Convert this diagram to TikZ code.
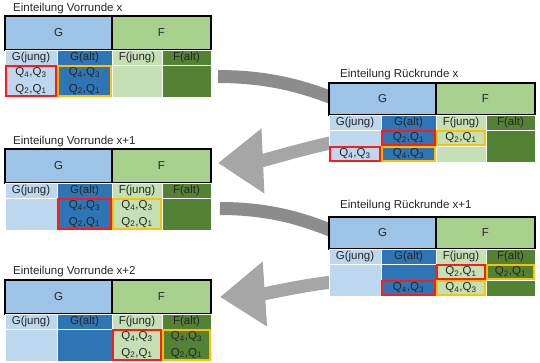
\documentclass[tikz,border=0pt]{standalone}
\usepackage{fontspec}
\setmainfont{Liberation Sans}
\usetikzlibrary{arrows.meta,positioning,backgrounds}
\definecolor{ghead}{HTML}{9DC3E6}
\definecolor{gjung}{HTML}{BDD7EE}
\definecolor{galt}{HTML}{2E75B6}
\definecolor{fhead}{HTML}{A9D18E}
\definecolor{fjung}{HTML}{C5E0B4}
\definecolor{falt}{HTML}{548235}
\definecolor{markred}{HTML}{FF1A1A}
\definecolor{markorange}{HTML}{FFC000}
\definecolor{arrowdark}{HTML}{8C8C8C}
\definecolor{arrowlight}{HTML}{A6A6A6}
\newcommand{\Qs}[2]{Q\textsubscript{#1},Q\textsubscript{#2}}

\begin{document}
\begin{tikzpicture}[x=1pt,y=-1pt]
	\tikzset{cell/.style={rectangle, inner sep=0pt, outer sep=0pt, draw=white, line width=.6pt, align=center, minimum height=15pt, text=black!85, font=\fontsize{11.5}{16.5}\selectfont},
		gh/.style={cell, fill=ghead, draw=black, line width=1.6pt, minimum width=107pt},
		fh/.style={cell, fill=fhead, draw=black, line width=1.6pt, minimum width=99pt},
		gj/.style={cell, fill=gjung, minimum width=52pt},
		ga/.style={cell, fill=galt, minimum width=55pt},
		fj/.style={cell, fill=fjung, minimum width=50pt},
		fa/.style={cell, fill=falt, minimum width=49pt},
		title/.style={anchor=base west, inner sep=0pt, text=black!85, font=\fontsize{11.5}{14}\selectfont},
		redmark/.style={draw=markred, line width=1.5pt},
		orangemark/.style={draw=markorange, line width=1.5pt},
		curvarrow/.style={draw=arrowdark, line width=13pt},
		curvarrowhead/.style={draw=arrowlight, line width=13pt, -{Triangle[length=45pt,width=62pt]}}
	}
	\useasboundingbox (0,0) rectangle (540,363);
	
	% Vorrunde x
	\node [title] (v1t) at (13,11.5) {Einteilung Vorrunde x};
	\node [gh, minimum height=34pt, anchor=north west] (v1G) at (5,16) {G};
	\node [fh, minimum height=34pt, right=0pt of v1G] (v1F) {F};
	\node [gj, anchor=north west] (v1gj) at (v1G.south west) {G(jung)};
	\node [ga, right=0pt of v1gj] (v1ga) {G(alt)};
	\node [fj, right=0pt of v1ga] (v1fj) {F(jung)};
	\node [fa, right=0pt of v1fj] (v1fa) {F(alt)};
	\node [gj, minimum height=32pt, below=0pt of v1gj] (v1gjd) {\Qs43\\\Qs21};
	\node [ga, minimum height=32pt, below=0pt of v1ga] (v1gad) {\Qs43\\\Qs21};
	\node [fj, minimum height=32pt, below=0pt of v1fj] (v1fjd) {};
	\node [fa, minimum height=32pt, below=0pt of v1fa] (v1fad) {};
	
	% Rueckrunde x
	\node [title] (r1t) at (340,77.5) {Einteilung Rückrunde x};
	\node [gh, minimum height=32pt, anchor=north west] (r1G) at (329,83) {G};
	\node [fh, minimum height=32pt, right=0pt of r1G] (r1F) {F};
	\node [gj, anchor=north west] (r1gj) at (r1G.south west) {G(jung)};
	\node [ga, right=0pt of r1gj] (r1ga) {G(alt)};
	\node [fj, right=0pt of r1ga] (r1fj) {F(jung)};
	\node [fa, right=0pt of r1fj] (r1fa) {F(alt)};
	\node [gj, minimum height=16pt, below=0pt of r1gj] (r1gj1) {};
	\node [gj, minimum height=16pt, below=0pt of r1gj1] (r1gj2) {\Qs43};
	\node [ga, minimum height=16pt, below=0pt of r1ga] (r1ga1) {\Qs21};
	\node [ga, minimum height=16pt, below=0pt of r1ga1] (r1ga2) {\Qs43};
	\node [fj, minimum height=16pt, below=0pt of r1fj] (r1fj1) {\Qs21};
	\node [fj, minimum height=16pt, below=0pt of r1fj1] (r1fj2) {};
	\node [fa, minimum height=32pt, below=0pt of r1fa] (r1fad) {};
	
	% Vorrunde x+1
	\node [title] (v2t) at (13,144.5) {Einteilung Vorrunde x+1};
	\node [gh, minimum height=34pt, anchor=north west] (v2G) at (5,149) {G};
	\node [fh, minimum height=34pt, right=0pt of v2G] (v2F) {F};
	\node [gj, anchor=north west] (v2gj) at (v2G.south west) {G(jung)};
	\node [ga, right=0pt of v2gj] (v2ga) {G(alt)};
	\node [fj, right=0pt of v2ga] (v2fj) {F(jung)};
	\node [fa, right=0pt of v2fj] (v2fa) {F(alt)};
	\node [gj, minimum height=32pt, below=0pt of v2gj] (v2gjd) {};
	\node [ga, minimum height=32pt, below=0pt of v2ga] (v2gad) {\Qs43\\\Qs21};
	\node [fj, minimum height=32pt, below=0pt of v2fj] (v2fjd) {\Qs43\\\Qs21};
	\node [fa, minimum height=32pt, below=0pt of v2fa] (v2fad) {};
	
	% Rueckrunde x+1
	\node [title] (r2t) at (340,209) {Einteilung Rückrunde x+1};
	\node [gh, minimum height=32pt, anchor=north west] (r2G) at (329,217) {G};
	\node [fh, minimum height=32pt, right=0pt of r2G] (r2F) {F};
	\node [gj, anchor=north west] (r2gj) at (r2G.south west) {G(jung)};
	\node [ga, right=0pt of r2gj] (r2ga) {G(alt)};
	\node [fj, right=0pt of r2ga] (r2fj) {F(jung)};
	\node [fa, right=0pt of r2fj] (r2fa) {F(alt)};
	\node [gj, minimum height=32pt, below=0pt of r2gj] (r2gjd) {};
	\node [ga, minimum height=16pt, below=0pt of r2ga] (r2ga1) {};
	\node [ga, minimum height=16pt, below=0pt of r2ga1] (r2ga2) {\Qs43};
	\node [fj, minimum height=16pt, below=0pt of r2fj] (r2fj1) {\Qs21};
	\node [fj, minimum height=16pt, below=0pt of r2fj1] (r2fj2) {\Qs43};
	\node [fa, minimum height=16pt, below=0pt of r2fa] (r2fa1) {\Qs21};
	\node [fa, minimum height=16pt, below=0pt of r2fa1] (r2fa2) {};
	
	% Vorrunde x+2
	\node [title] (v3t) at (13,274) {Einteilung Vorrunde x+2};
	\node [gh, minimum height=34pt, anchor=north west] (v3G) at (5,280) {G};
	\node [fh, minimum height=34pt, right=0pt of v3G] (v3F) {F};
	\node [gj, anchor=north west] (v3gj) at (v3G.south west) {G(jung)};
	\node [ga, right=0pt of v3gj] (v3ga) {G(alt)};
	\node [fj, right=0pt of v3ga] (v3fj) {F(jung)};
	\node [fa, right=0pt of v3fj] (v3fa) {F(alt)};
	\node [gj, minimum height=32pt, below=0pt of v3gj] (v3gjd) {};
	\node [ga, minimum height=32pt, below=0pt of v3ga] (v3gad) {};
	\node [fj, minimum height=32pt, below=0pt of v3fj] (v3fjd) {\Qs43\\\Qs21};
	\node [fa, minimum height=32pt, below=0pt of v3fa] (v3fad) {\Qs43\\\Qs21};
	
	% red and orange frames
	\foreach \c in {v1gjd, r1ga1, r1gj2, v2gad, r2fj1, r2ga2, v3fjd}
	\draw [redmark] ([shift={(.8,.8)}]\c.north west) rectangle ([shift={(-.8,-.8)}]\c.south east);
	\foreach \c in {v1gad, r1fj1, r1ga2, v2fjd, r2fa1, r2fj2, v3fad}
	\draw [orangemark] ([shift={(.8,.8)}]\c.north west) rectangle ([shift={(-.8,-.8)}]\c.south east);
	
	% curved arrows behind the tables
	\begin{scope}[on background layer]
		\coordinate (a1s) at (218,76.5);
		\coordinate (a2e) at (218,163);
		\coordinate (a3s) at (220,208.5);
		\coordinate (a4e) at (220,297);
		\draw [curvarrow] (a1s) .. controls +(60,0) and +(-30,-12) .. ([shift={(16,4)}]r1G.west);
		\draw [curvarrowhead] (r1gj1.center) .. controls +(-45,8) and +(45,-2) .. (a2e);
		\draw [curvarrow] (a3s) .. controls +(60,0) and +(-30,-12) .. ([shift={(16,3)}]r2G.west);
		\draw [curvarrowhead] (r2gjd.center) .. controls +(-40,2) and +(45,-3) .. (a4e);
	\end{scope}
\end{tikzpicture}
\end{document}
